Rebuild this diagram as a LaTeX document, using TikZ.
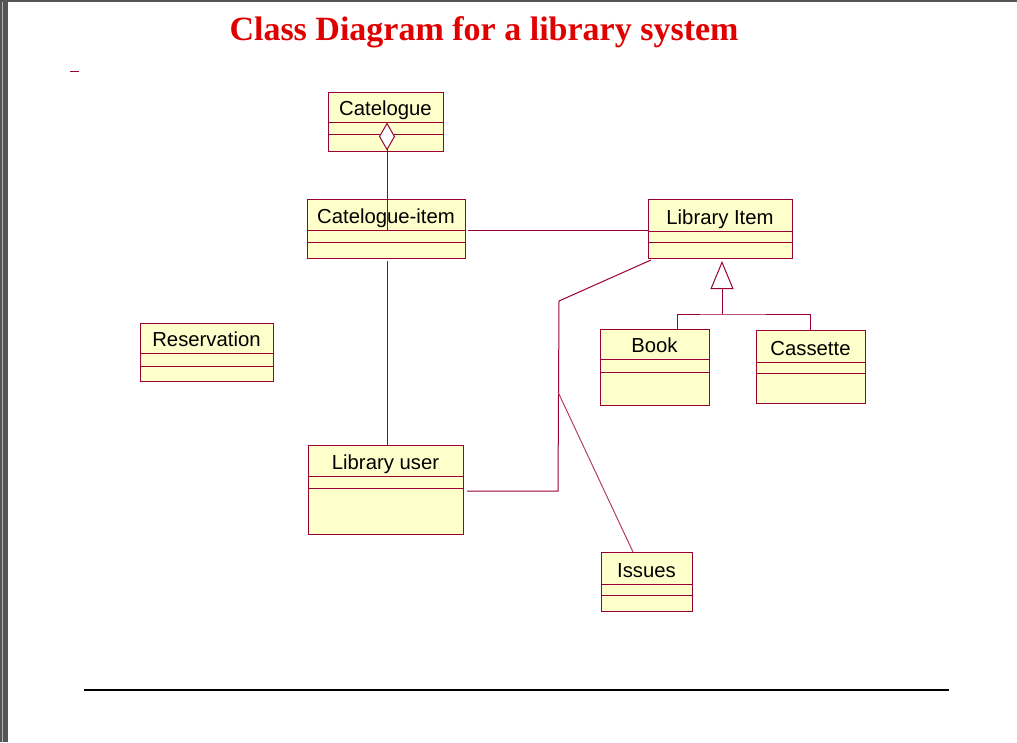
\documentclass[tikz,border=0pt]{standalone}
\usepackage{fontspec}
\newfontfamily\umlfont{Liberation Sans}
\newfontfamily\titlefont{Liberation Serif}
\usetikzlibrary{calc,arrows.meta,positioning}
\definecolor{umlred}{RGB}{153,0,51}
\definecolor{umlfill}{RGB}{255,255,204}
\definecolor{titlered}{RGB}{225,0,0}
\definecolor{framegray}{RGB}{85,85,85}
\tikzset{
  classbox/.style={draw=umlred, fill=umlfill, line width=1pt, anchor=north west, inner sep=0pt, outer sep=0pt},
  classname/.style={anchor=base, inner sep=0pt, font=\umlfont\fontsize{20.3}{24}\selectfont},
  classsep/.style={draw=umlred, line width=1pt},
  assoc/.style={draw=umlred, line width=1pt},
  title/.style={anchor=base, inner sep=0pt, text=titlered, font=\titlefont\bfseries\fontsize{34}{40}\selectfont}
}
\newcommand{\umlclass}[7]{%
  \node[classbox, minimum width=#3, minimum height=#4] (#1) at (#2) {};
  \node[classname] (#1-name) at ($(#1.north)+(0,#5-7)$) {#7};
  \draw[classsep] ($(#1.north west)+(0,#5)$) -- ($(#1.north east)+(0,#5)$);
  \draw[classsep] ($(#1.north west)+(0,#6)$) -- ($(#1.north east)+(0,#6)$);
}
\begin{document}
\begin{tikzpicture}[x=1pt, y=-1pt]
\useasboundingbox (0,0) rectangle (1017,742);
\fill[white] (0,0) rectangle (1017,742);
\fill[framegray] (0,0) rectangle (7.5,742);
\fill[framegray] (0,0) rectangle (1017,2);
\fill[gray!60] (2,2) rectangle (3,742);

\node[title] (title) at (484,40) {Class Diagram for a library system};
\draw[umlred, line width=1pt] (70,71) -- (79,71);

\umlclass{catalogue}{328,92}{115}{59}{30}{42}{Catelogue}
\umlclass{catitem}{307,199}{158}{59}{31}{43}{Catelogue-item}
\umlclass{libitem}{648,199}{144}{59}{32}{43}{Library Item}
\umlclass{book}{600,329}{109}{76}{30}{43}{Book}
\umlclass{cassette}{756,330}{109}{73}{32}{43}{Cassette}
\umlclass{reservation}{140,323}{133}{58}{30}{43}{Reservation}
\umlclass{libuser}{308,445}{155}{89}{31}{43}{Library user}
\umlclass{issues}{601,552}{91}{59}{32}{43}{Issues}

\coordinate (genjoin) at (722,314);
\coordinate (bend1) at (559,301);
\coordinate (bend2) at (558,491);
\coordinate (fork) at (558,392);

\draw[assoc, {Diamond[fill=white, length=28pt, width=16pt]}-] ($(catalogue.north)+(1.5,30.5)$) -- ($(catitem.north)+(1,31)$);
\draw[assoc] ($(catitem.north east)+(3,31)$) -- ($(libitem.north west)+(0,31)$);
\draw[assoc] ($(catitem.south)+(1,3)$) -- ($(libuser.north)+(1.5,0)$);
\draw[assoc] ($(libitem.south west)+(3,2)$) -- (bend1) -- (bend2) -- ($(libuser.east)+(4,1.5)$);
\draw[assoc, draw=umlred!75] (fork) -- ($(issues.north)+(-13.5,0)$);
\draw[assoc, -{Triangle[fill=white, length=28pt, width=23pt]}] (genjoin) -- ($(libitem.south)+(2,3)$);
\draw[assoc] ($(book.north)+(22.5,0)$) |- (genjoin) -| (cassette.north);

\draw[black, line width=1.2pt] (84,690) -- (949,690);
\end{tikzpicture}
\end{document}
